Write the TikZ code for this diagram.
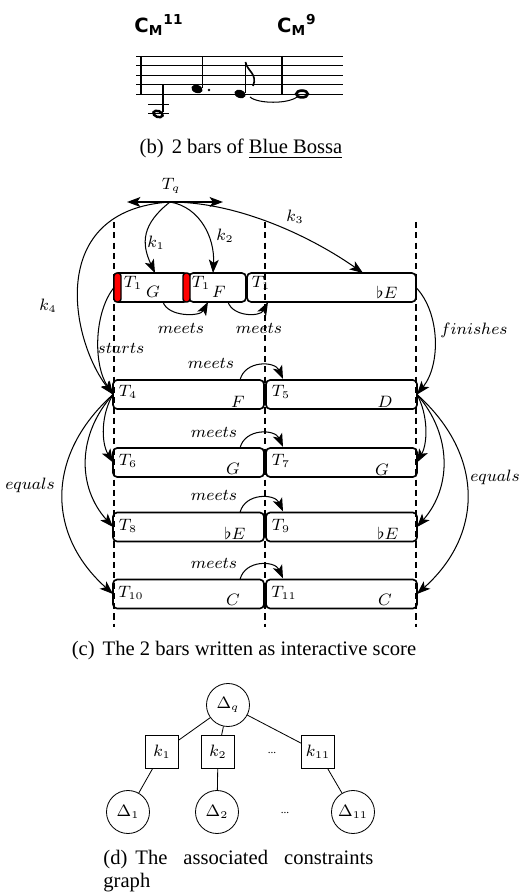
\documentclass[tikz,border=0pt]{standalone}
\usepackage{fontspec}
\setmainfont{Liberation Serif}
\newfontfamily\chordfont{DejaVu Sans}
\usetikzlibrary{arrows.meta,calc}
\newlength\pxu
\setlength\pxu{0.4854pt}
\begin{document}
\begin{tikzpicture}[x=0.4854pt,y=-0.4854pt,
  lbl/.style={font=\fontsize{7.6}{9}\selectfont, inner sep=0pt},
  captxt/.style={font=\fontsize{10}{12.5}\selectfont, inner sep=0pt},
  chord/.style={font=\chordfont\bfseries\fontsize{9.5}{11}\selectfont, inner sep=0pt},
  box/.style={draw, line width=0.8pt, rounded corners=2pt, minimum height=29\pxu, inner sep=0pt, outer sep=0pt},
  redmark/.style={draw, fill=red, line width=0.7pt, rounded corners=3\pxu, minimum width=7\pxu, minimum height=29\pxu, inner sep=0pt, outer sep=0pt},
  arr/.style={-{Stealth[length=6.5pt,width=4.8pt,inset=1.6pt]}, line width=0.5pt},
  dbl/.style={{Stealth[length=6.5pt,width=4.8pt,inset=1.6pt]}-{Stealth[length=6.5pt,width=4.8pt,inset=1.6pt]}, line width=0.7pt},
  guide/.style={dash pattern=on 3pt off 2pt, line width=0.5pt},
  circ/.style={draw, circle, line width=0.4pt, minimum size=43\pxu, inner sep=0pt, font=\fontsize{7.6}{9}\selectfont},
  sq/.style={draw, rectangle, line width=0.4pt, minimum size=33\pxu, inner sep=0pt, font=\fontsize{7.6}{9}\selectfont},
  staff/.style={line width=0.4pt},
  gedge/.style={line width=0.4pt}
  ]
\useasboundingbox (0,0) rectangle (518,894);

% ---------- (b) music ----------
\foreach \yy in {56,65.5,75,84.5,94} \draw[staff] (136,\yy) -- (343,\yy);
\draw[line width=0.6pt] (141,56) -- (141,94);
\draw[line width=0.6pt] (282,56) -- (282,94);
% low half note with ledger lines
\draw[staff] (148,104) -- (169,104);
\draw[staff] (148,113.5) -- (169,113.5);
\draw[line width=1.2pt, rotate around={-20:(158,114)}] (158,114) ellipse [x radius=4.8, y radius=3];
\draw[line width=0.6pt] (163,112) -- (163,85);
% dotted quarter
\fill[rotate around={-20:(197,89)}] (197,89) ellipse [x radius=5.8, y radius=4];
\draw[line width=0.6pt] (202.5,88) -- (202.5,56);
\fill (209,90) circle [radius=1.3];
% eighth
\fill[rotate around={-20:(240,94)}] (240,94) ellipse [x radius=5.8, y radius=4];
\draw[line width=0.6pt] (245.5,93) -- (245.5,62);
\draw[line width=0.8pt] (245.5,62) .. controls (247,71) and (258,74) .. (253,86);
% whole note
\draw[line width=1.3pt] (302,94) ellipse [x radius=5.8, y radius=3.4];
% tie
\draw[line width=0.5pt] (250,97) .. controls (258,104) and (288,104) .. (297,97);
% chord symbols
\node[chord] (ch1) at (159,25) {C\textsubscript{M}\textsuperscript{11}};
\node[chord] (ch2) at (297,25) {C\textsubscript{M}\textsuperscript{9}};
\node[captxt, anchor=base] (capb) at (241,154) {(b)\hspace{3.9pt}2 bars of \underline{Blue Bossa}};

% ---------- (c) interactive score ----------
\draw[guide] (114,222) -- (114,627);
\draw[guide] (265,222) -- (265,627);
\draw[guide] (416,222) -- (416,627);

\coordinate (tq) at (170,202);
\coordinate (tqL) at (127,202);
\coordinate (tqR) at (223,202);
\draw[dbl] (tqL) -- (tqR);
\node[lbl] (tqlab) at (171,186) {$T_q$};

% top row
\node[box, minimum width=74\pxu] (b1) at (151,287.5) {};
\node[box, minimum width=57\pxu] (b2) at (217.5,287.5) {};
\node[box, minimum width=169\pxu] (b3) at (331.5,287.5) {};
\node[redmark] (r1) at (117.5,287.5) {};
\node[redmark] (r2) at (186.5,287.5) {};
\node[lbl] (t1a) at (133,283) {$T_1$};
\node[lbl] (na) at (153,292) {$G$};
\node[lbl] (t1b) at (201,283) {$T_1$};
\node[lbl] (nb) at (219,292) {$F$};
\node[lbl] (t1c) at (261,283) {$T_1$};
\node[lbl] (nc) at (387,292) {$\flat E$};

% rows
\node[box, minimum width=151\pxu] (b4) at (188.5,394.5) {};
\node[box, minimum width=151\pxu] (b5) at (341.5,394.5) {};
\node[box, minimum width=151\pxu] (b6) at (188.5,462.5) {};
\node[box, minimum width=151\pxu] (b7) at (341.5,462.5) {};
\node[box, minimum width=151\pxu] (b8) at (188.5,527) {};
\node[box, minimum width=151\pxu] (b9) at (341.5,527) {};
\node[box, minimum width=151\pxu] (b10) at (188.5,594) {};
\node[box, minimum width=151\pxu] (b11) at (341.5,594) {};

\node[lbl] (t4) at (128,392) {$T_4$};
\node[lbl] (n4) at (238,402) {$F$};
\node[lbl] (t5) at (281,392) {$T_5$};
\node[lbl] (n5) at (385,402) {$D$};
\node[lbl] (t6) at (128,461) {$T_6$};
\node[lbl] (n6) at (233,469) {$G$};
\node[lbl] (t7) at (281,461) {$T_7$};
\node[lbl] (n7) at (382,470) {$G$};
\node[lbl] (t8) at (128,526) {$T_8$};
\node[lbl] (n8) at (235,533) {$\flat E$};
\node[lbl] (t9) at (281,526) {$T_9$};
\node[lbl] (n9) at (388,533) {$\flat E$};
\node[lbl] (t10) at (131,593) {$T_{10}$};
\node[lbl] (n10) at (233,600) {$C$};
\node[lbl] (t11) at (284,593) {$T_{11}$};
\node[lbl] (n11) at (385,600) {$C$};

% k arcs from Tq
\draw[arr] (tq) .. controls +(-28,22) and +(-14,-30) .. ($(b1.north)+(4,0)$);
\node[lbl] (k1lab) at (156,243) {$k_1$};
\draw[arr] (tq) .. controls +(30,5) and +(2,-35) .. ($(b2.north)+(-4.5,0)$);
\node[lbl] (k2lab) at (225,236) {$k_2$};
\draw[arr] (tq) .. controls +(70,0) and +(-50,-35) .. ($(b3.north)+(31.5,0)$);
\node[lbl] (k3lab) at (295,217) {$k_3$};
\draw[arr] (tq) .. controls +(-125,8) and +(-42,-54) .. (b4.west);
\node[lbl] (k4lab) at (48,306) {$k_4$};

% starts / finishes
\draw[arr] (b1.west) .. controls +(-20,25) and +(-20,-30) .. (b4.west);
\node[lbl] (startslab) at (121,348) {$starts$};
\draw[arr] (b3.east) .. controls +(24,25) and +(24,-30) .. (b5.east);
\node[lbl] (finlab) at (474,330) {$finishes$};

% meets (top row)
\draw[arr] ($(b1.south)+(12,0)$) .. controls +(5,15) and +(-8,15) .. ($(b2.south)+(-9.5,0)$);
\draw[arr] ($(b2.south)+(10.5,0)$) .. controls +(5,15) and +(-8,15) .. ($(b3.south west)+(21,0)$);
\node[lbl] (m1lab) at (181,328) {$meets$};
\node[lbl] (m2lab) at (259,328) {$meets$};

% meets (rows)
\draw[arr] ($(b4.north east)+(-24,0)$) .. controls +(5,-20) and +(-8,-18) .. ($(b5.north west)+(17,-1)$);
\draw[arr] ($(b6.north east)+(-24,0)$) .. controls +(5,-20) and +(-8,-18) .. ($(b7.north west)+(17,-1)$);
\draw[arr] ($(b8.north east)+(-24,0)$) .. controls +(5,-20) and +(-8,-18) .. ($(b9.north west)+(17,-1)$);
\draw[arr] ($(b10.north east)+(-24,0)$) .. controls +(5,-20) and +(-8,-18) .. ($(b11.north west)+(17,-1)$);
\node[lbl] (m3lab) at (211,363) {$meets$};
\node[lbl] (m4lab) at (214,432) {$meets$};
\node[lbl] (m5lab) at (214,495) {$meets$};
\node[lbl] (m6lab) at (214,563) {$meets$};

% equals (left)
\draw[arr] (b4.west) .. controls +(-12,20) and +(-12,-20) .. (b6.west);
\draw[arr] (b4.west) .. controls +(-36,40) and +(-36,-40) .. (b8.west);
\draw[arr] (b4.west) .. controls +(-67,60) and +(-67,-60) .. (b10.west);
\node[lbl] (eqL) at (30,485) {$equals$};
% equals (right)
\draw[arr] (b5.east) .. controls +(11,20) and +(11,-20) .. (b7.east);
\draw[arr] (b5.east) .. controls +(35,40) and +(35,-40) .. (b9.east);
\draw[arr] (b5.east) .. controls +(67,60) and +(67,-60) .. (b11.east);
\node[lbl] (eqR) at (495,477) {$equals$};

\node[captxt, anchor=base] (capc) at (244,655) {(c)\hspace{3.9pt}The 2 bars written as interactive score};

% ---------- (d) constraints graph ----------
\node[circ] (dq) at (228,705) {$\Delta_q$};
\node[sq] (k1) at (162,752) {$k_1$};
\node[sq] (k2) at (218,752) {$k_2$};
\node[lbl, font=\fontsize{5.5}{6}\selectfont] (dotsA) at (272,753) {...};
\node[sq] (k11) at (318,752) {$k_{11}$};
\node[circ] (d1) at (128,812) {$\Delta_1$};
\node[circ] (d2) at (217,812) {$\Delta_2$};
\node[lbl, font=\fontsize{5.5}{6}\selectfont] (dotsB) at (285,813) {...};
\node[circ] (d11) at (353,812) {$\Delta_{11}$};
\draw[gedge] (dq) -- (k1);
\draw[gedge] (dq) -- (k2);
\draw[gedge] (dq) -- (k11);
\draw[gedge] (k1) -- (d1);
\draw[gedge] (k2) -- (d2);
\draw[gedge] (k11) -- (d11);

\node[captxt, font=\fontsize{10}{11.6}\selectfont, text width=270\pxu, align=justify, anchor=base west] (capd) at (103,864) {(d)\hspace{3.9pt}The associated constraints graph};
\end{tikzpicture}
\end{document}
